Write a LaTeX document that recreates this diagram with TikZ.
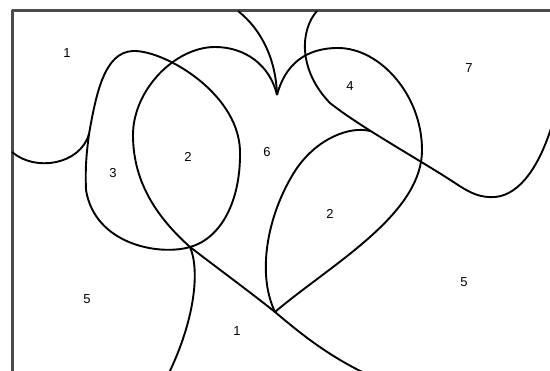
\documentclass[tikz,border=0pt]{standalone}
\usepackage{fontspec}
\setmainfont{Liberation Sans}
\begin{document}
\begin{tikzpicture}[x=1pt, y=-1pt, line join=round,
    curve/.style={line width=1.9pt, black},
    frame/.style={line width=3pt, black!70},
    region/.style={font=\fontsize{13}{15}\selectfont, inner sep=0pt}]
        \useasboundingbox (0,0) rectangle (550,371);
        \clip (0,0) rectangle (550,371);

        % Frame
        \draw[frame] (12,400) -- (12,11) -- (600,11);

        % Left loop with its two tails
        \draw[curve] (89,134) .. controls (96,95) and (104,52) .. (133,51)
            .. controls (165,50) and (242,95) .. (240,155)
            .. controls (240,200) and (222,238) .. (190,247)
            .. controls (160,256) and (95,245) .. (86,190)
            .. controls (85,165) and (87,150) .. (89,134);
        \draw[curve] (12,152) .. controls (35,172) and (80,165) .. (89,134);
        \draw[curve] (190,247) .. controls (200,270) and (195,320) .. (168,375);

        % Heart
        \draw[curve] (277,95) .. controls (270,65) and (245,47) .. (215,47)
            .. controls (175,47) and (133,90) .. (133,135)
            .. controls (133,185) and (160,220) .. (190,247)
            .. controls (220,270) and (250,292) .. (275,312)
            .. controls (300,333) and (330,358) .. (375,378);
        \draw[curve] (277,95) .. controls (285,65) and (305,48) .. (338,48)
            .. controls (380,48) and (422,95) .. (422,150)
            .. controls (422,215) and (330,265) .. (275,312);
        \draw[curve] (238,11) .. controls (262,30) and (276,60) .. (277,95);

        % Right curve from the top edge
        \draw[curve] (317,11) .. controls (300,30) and (298,70) .. (330,103)
            .. controls (360,127) and (420,160) .. (455,183)
            .. controls (470,193) and (480,198) .. (495,197)
            .. controls (520,195) and (540,165) .. (552,125);

        % Inner arc of the lower region
        \draw[curve] (370,131) .. controls (350,126) and (318,138) .. (297,168)
            .. controls (270,208) and (255,270) .. (275,312);

        % Region numbers
        \node[region] (one) at (67,53) {1};
        \node[region] (three) at (113,173) {3};
        \node[region] (two) at (188,157) {2};
        \node[region] (six) at (267,152) {6};
        \node[region] (four) at (350,86) {4};
        \node[region] (seven) at (469,68) {7};
        \node[region] (twob) at (330,214) {2};
        \node[region] (five) at (87,299) {5};
        \node[region] (fiveb) at (464,282) {5};
        \node[region] (oneb) at (237,331) {1};
\end{tikzpicture}
\end{document}
